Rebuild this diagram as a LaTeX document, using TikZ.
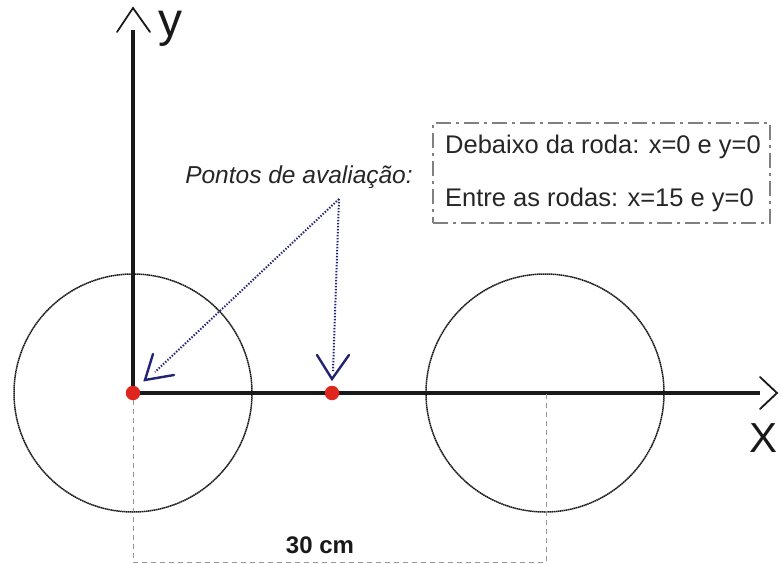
\documentclass[tikz,border=0pt]{standalone}
\usepackage{fontspec}
\setmainfont{Liberation Sans}
\definecolor{dotred}{RGB}{222,38,30}
\definecolor{navy}{RGB}{35,35,115}
\definecolor{dimgray}{RGB}{150,150,150}
\definecolor{boxgray}{RGB}{128,128,128}
\begin{document}
\begin{tikzpicture}[x=1pt,y=-1pt,
  axis/.style={line width=3.6pt, draw=black!90, line join=miter},
  chev/.style={line width=1.8pt, draw=black!90, line cap=round},
  wheel/.style={circle, draw=black!90, line width=1.5pt, dash pattern=on 1.5pt off 0.5pt, minimum size=238pt, inner sep=0pt},
  reddot/.style={circle, fill=dotred, minimum size=14.5pt, inner sep=0pt},
  pointer/.style={draw=navy, line width=2pt, dash pattern=on 1.4pt off 1.6pt},
  navychev/.style={draw=navy, line width=2.4pt, line cap=round},
  dimline/.style={draw=dimgray, line width=1pt, dash pattern=on 5pt off 4pt},
  infobox/.style={draw=boxgray, line width=2.4pt, dash pattern=on 15pt off 5pt on 3pt off 5pt, minimum width=337pt, minimum height=100pt, inner sep=0pt},
  infotext/.style={font=\fontsize{25.5}{30}\selectfont, text=black!85, anchor=base west, inner sep=0pt},
]
\useasboundingbox (0,0) rectangle (779,564);

% wheels
\node[wheel] (w1) at (133,393) {};
\node[wheel] (w2) at (545,393) {};

% axes
\coordinate (o) at (133,393);
\coordinate (xend) at (760,393);
\coordinate (yend) at (133,30);
\draw[axis] (yend) -- (o) -- (xend);
\draw[chev] (117,32) -- (133,8) -- (150,32);
\draw[chev] (760,377) -- (777,393) -- (760,409);
\node[font=\fontsize{48}{48}\selectfont, anchor=base, inner sep=0pt, text=black!90] (ylab) at (170,37) {y};
\node[font=\fontsize{42}{42}\selectfont, anchor=base east, inner sep=0pt, text=black!90] (xlab) at (778,452) {X};

% dimension
\coordinate (d1) at (133,562);
\coordinate (d2) at (546,562);
\coordinate (d0) at (546,393);
\draw[dimline] (133,400) -- (d1) -- (d2) -- (d0);
\node[font=\bfseries\fontsize{24}{24}\selectfont, inner sep=0pt, text=black!90] (dim) at (320,545) {30 cm};

% evaluation points
\node[reddot] (p1) at (133,393) {};
\node[reddot] (p2) at (332,393) {};

\node[font=\itshape\fontsize{24.5}{28}\selectfont, text=black!85, inner sep=0pt] (lbl) at (299,177) {Pontos de avaliação:};
\coordinate (apex) at (339,199);
\coordinate (e1) at (155,372);
\coordinate (e2) at (333,371);
\draw[pointer] (apex) -- (e1);
\draw[pointer] (apex) -- (e2);
\draw[navychev] (153,354) -- (145,380) -- (174,375);
\draw[navychev] (317,355) -- (332,379) -- (349,355);

% info box
\node[infobox] (info) at (601.5,173) {};
\node[infotext] (t1) at (445,154) {Debaixo da roda: x=0 e y=0};
\node[infotext] (t2) at (445,207) {Entre as rodas: x=15 e y=0};
\end{tikzpicture}
\end{document}
